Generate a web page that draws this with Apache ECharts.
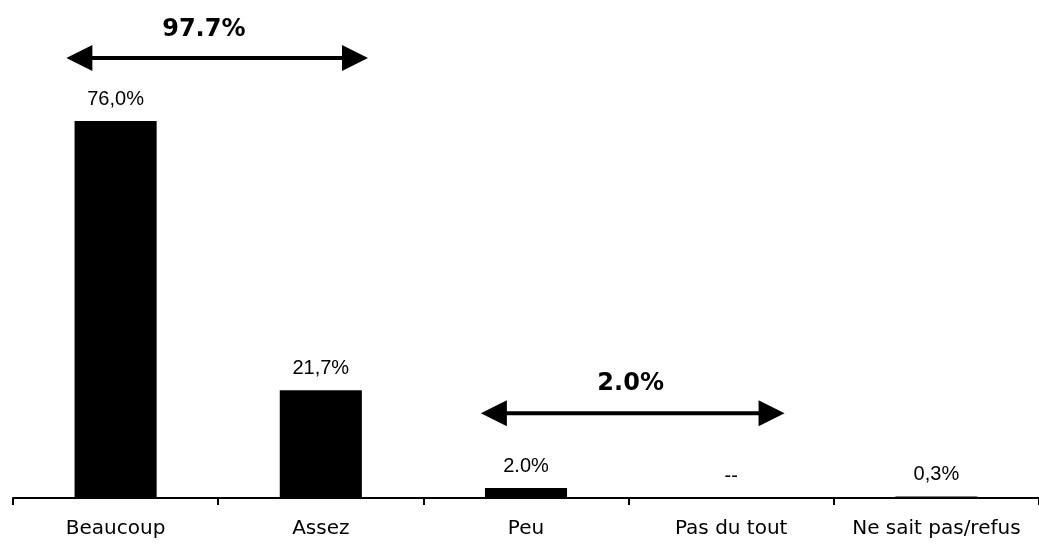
<!DOCTYPE html>
<html>
<head>
<meta charset="utf-8">
<script src="https://cdn.jsdelivr.net/npm/echarts@6/dist/echarts.min.js"></script>
<style>
html,body{margin:0;padding:0;background:#fff;}
#main{width:1039px;height:547px;}
</style>
</head>
<body>
<div id="main"></div>
<script>
const categories = ["Beaucoup", "Assez", "Peu", "Pas du tout", "Ne sait pas/refus"];
const values = [76.0, 21.7, 2.0, 0, 0.3];
const valueLabels = ["76,0%", "21,7%", "2.0%", "--", "0,3%"];
// annotation arrows: [fromIndex, toIndex, yValue, text, textIndex, textValue]
const arrows = [
  {from: -0.24, to: 1.23, y: 88.7, text: "97.7%", tx: 0.43, ty: 94.4},
  {from: 1.78, to: 3.26, y: 17.1, text: "2.0%", tx: 2.51, ty: 23.0}
];

const chart = echarts.init(document.getElementById('main'), null, {renderer: 'canvas'});
const option = {
  animation: false,
  backgroundColor: '#ffffff',
  grid: {left: 13, width: 1030, top: 2, bottom: 49},
  xAxis: {
    type: 'category',
    data: categories,
    axisLine: {lineStyle: {color: '#000', width: 2}},
    axisTick: {show: true, interval: 0, length: 7, lineStyle: {color: '#000', width: 2}},
    axisLabel: {interval: 0, hideOverlap: false, color: '#000', fontFamily: 'DejaVu Sans', fontSize: 20, margin: 21}
  },
  yAxis: {
    type: 'value', min: 0, max: 100, show: false,
    splitLine: {show: false}
  },
  series: [{
    type: 'bar',
    data: values,
    barWidth: '40%',
    itemStyle: {color: '#000'},
    label: {
      show: true, position: 'top', distance: 12,
      color: '#000', fontFamily: 'Liberation Sans', fontSize: 20,
      formatter: p => valueLabels[p.dataIndex]
    }
  }]
};
chart.setOption(option);

function xPix(i) {
  const a = chart.convertToPixel({xAxisIndex: 0}, 0);
  const b = chart.convertToPixel({xAxisIndex: 0}, 1);
  return a + i * (b - a);
}
function yPix(v) { return chart.convertToPixel({yAxisIndex: 0}, v); }

const graphics = [];
arrows.forEach(a => {
  const x1 = xPix(a.from), x2 = xPix(a.to), y = yPix(a.y);
  const hl = 26, hh = 13;
  graphics.push({type: 'line', shape: {x1: x1 + hl - 2, y1: y, x2: x2 - hl + 2, y2: y}, style: {stroke: '#000', lineWidth: 4}});
  graphics.push({type: 'polygon', shape: {points: [[x1, y], [x1 + hl, y - hh], [x1 + hl, y + hh]]}, style: {fill: '#000'}});
  graphics.push({type: 'polygon', shape: {points: [[x2, y], [x2 - hl, y - hh], [x2 - hl, y + hh]]}, style: {fill: '#000'}});
  graphics.push({type: 'text', x: xPix(a.tx), y: yPix(a.ty), style: {text: a.text, fill: '#000', font: 'bold 24px "DejaVu Sans"', align: 'center', verticalAlign: 'middle'}});
});
chart.setOption({graphic: graphics});
</script>
</body>
</html>
